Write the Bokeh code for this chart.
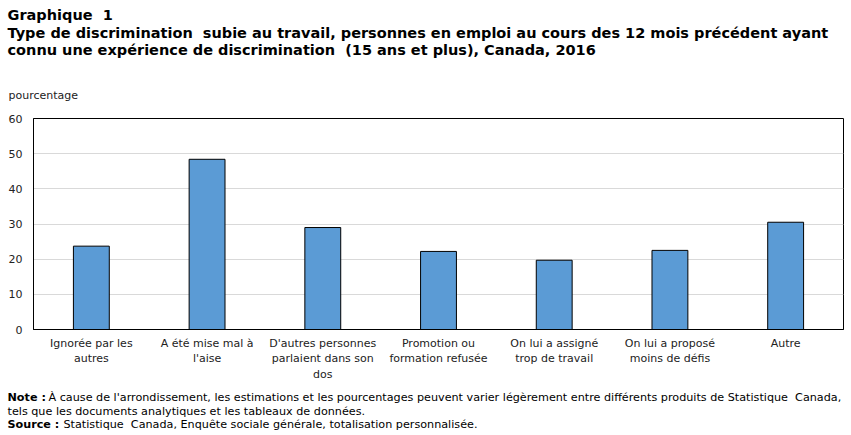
from bokeh.plotting import figure
from bokeh.layouts import column
from bokeh.models import Range1d, Label, FixedTicker
from bokeh.embed import file_html
from bokeh.resources import INLINE

# Types of discrimination experienced at work (% of employed people, 15+)
categories = [
    "Ignorée par les\nautres",
    "A été mise mal à\nl'aise",
    "D'autres personnes\nparlaient dans son\ndos",
    "Promotion ou\nformation refusée",
    "On lui a assigné\ntrop de travail",
    "On lui a proposé\nmoins de défis",
    "Autre",
]
values = [23.7, 48.4, 29.0, 22.2, 19.7, 22.5, 30.5]
y_ticks = [0, 10, 20, 30, 40, 50, 60]

W = 851
HEADER_H, CHART_H, FOOTER_H = 108, 277, 50
SP2 = "\u00a0 "  # a double space that survives SVG whitespace collapsing


def text_panel(height):
    """A blank figure whose frame fills it; coordinates are pixels from top-left."""
    f = figure(width=W, height=height, output_backend="svg", toolbar_location=None,
               x_range=Range1d(0, W), y_range=Range1d(height, 0),
               x_axis_location=None, y_axis_location=None,
               min_border=0, min_border_left=0, min_border_right=0,
               min_border_top=0, min_border_bottom=0)
    f.title.visible = False
    f.grid.visible = False
    f.outline_line_color = None
    f.background_fill_color = "white"
    f.border_fill_color = "white"
    return f


def add_text(f, text, x, y, size, bold=False, color="black", font="DejaVu Sans"):
    f.add_layout(Label(
        x=x, y=y, text=text, text_font=font, text_font_size=size,
        text_font_style="bold" if bold else "normal",
        text_color=color, text_baseline="middle", text_align="left",
    ))


# title block
header = text_panel(HEADER_H)
add_text(header, "Graphique" + SP2 + "1", 7, 14, "14.5px", bold=True)
add_text(header, "Type de discrimination" + SP2 + "subie au travail, personnes en emploi au cours des 12 mois précédent ayant",
         7, 32, "14.5px", bold=True)
add_text(header, "connu une expérience de discrimination" + SP2 + "(15 ans et plus), Canada, 2016",
         7, 49, "14.5px", bold=True)
add_text(header, "pourcentage", 8, 95, "11px", color="#222222")

# bar chart
p = figure(
    x_range=categories,
    y_range=Range1d(0, 60),
    width=W, height=CHART_H,
    output_backend="svg",
    toolbar_location=None,
    min_border_left=33, min_border_right=8,
    min_border_top=10, min_border_bottom=CHART_H - 10 - 211,
)
p.title.visible = False
p.background_fill_color = "white"
p.border_fill_color = "white"
p.outline_line_color = "black"
p.outline_line_width = 1

p.vbar(x=categories, top=values, width=0.31,
       fill_color="#5B9BD5", line_color="black", line_width=1)

p.yaxis.ticker = FixedTicker(ticks=y_ticks)
p.yaxis.major_tick_line_color = None
p.yaxis.major_tick_out = 0
p.yaxis.major_tick_in = 0
p.yaxis.minor_tick_line_color = None
p.yaxis.axis_line_color = "black"
p.yaxis.major_label_text_font = "DejaVu Sans"
p.yaxis.major_label_text_font_size = "11px"
p.yaxis.major_label_text_color = "#222222"
p.yaxis.major_label_standoff = 11

p.xaxis.major_tick_line_color = None
p.xaxis.major_tick_out = 0
p.xaxis.major_tick_in = 0
p.xaxis.minor_tick_line_color = None
p.xaxis.axis_line_color = "black"
p.xaxis.major_label_text_font = "DejaVu Sans"
p.xaxis.major_label_text_font_size = "11px"
p.xaxis.major_label_text_color = "#222222"
p.xaxis.major_label_text_line_height = 1.2
p.xaxis.major_label_standoff = 7

p.xgrid.grid_line_color = None
p.ygrid.grid_line_color = "#d9d9d9"
p.ygrid.grid_line_width = 1

# notes
footer = text_panel(FOOTER_H)
y0 = HEADER_H + CHART_H
add_text(footer, "Note :", 7, 397 - y0, "11.2px", bold=True)
add_text(footer, "À cause de l'arrondissement, les estimations et les pourcentages peuvent varier légèrement entre différents produits de Statistique" + SP2 + "Canada,",
         48, 397 - y0, "11.2px")
add_text(footer, "tels que les documents analytiques et les tableaux de données.", 7, 411 - y0, "11.2px")
add_text(footer, "Source :", 7, 424 - y0, "11.2px", bold=True)
add_text(footer, "Statistique" + SP2 + "Canada, Enquête sociale générale, totalisation personnalisée.", 63, 424 - y0, "11.2px")

# each piece sits in its own column so the frames are not lined up with the chart's
layout = column(column(header, spacing=0), column(p, spacing=0), column(footer, spacing=0), spacing=0)
open("out.html", "w").write(file_html(layout, INLINE))
